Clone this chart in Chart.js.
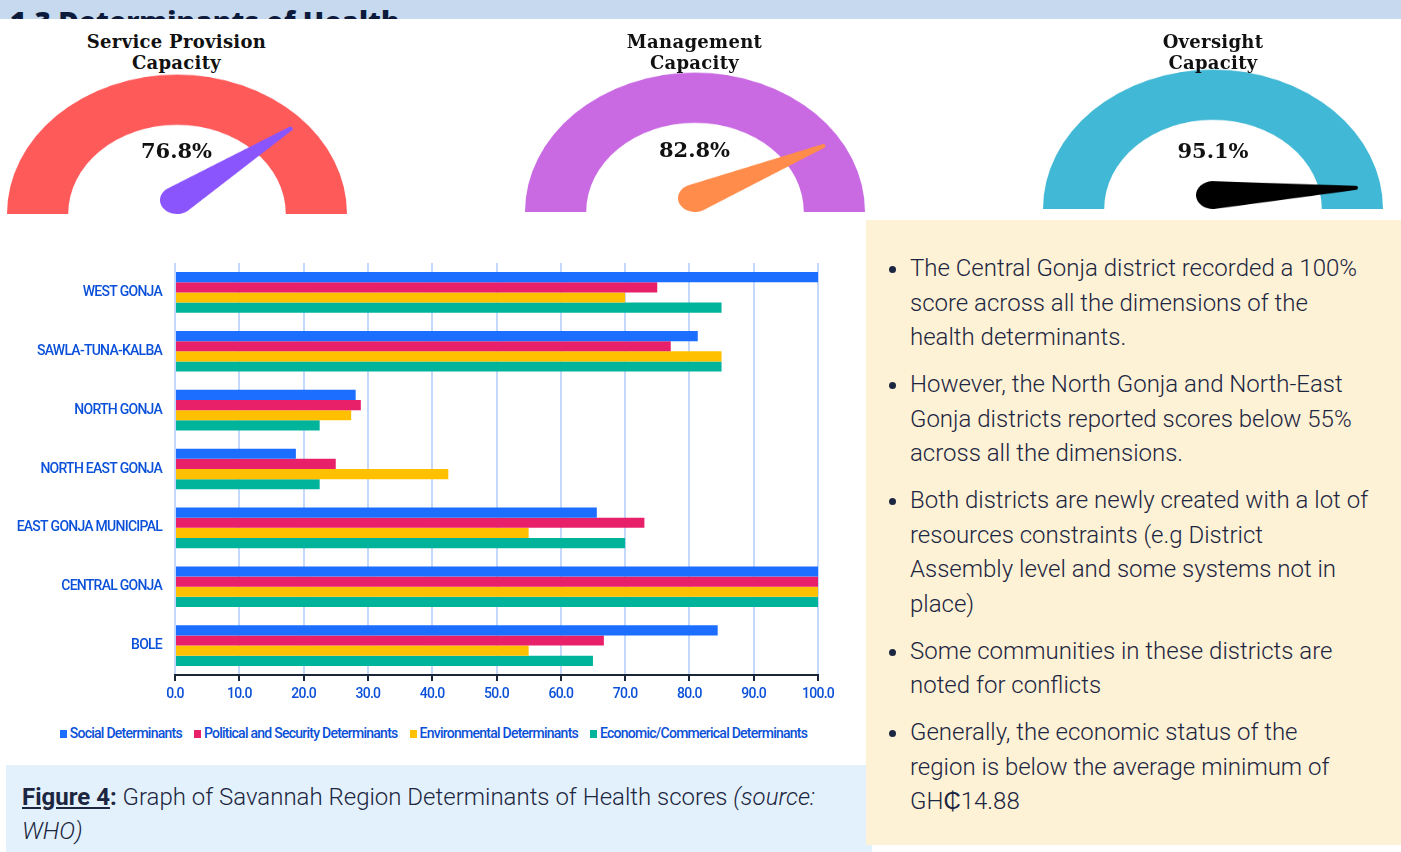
<!DOCTYPE html>
<html>
<head>
<meta charset="utf-8">
<script src="https://cdn.jsdelivr.net/npm/chart.js@4.4.1/dist/chart.umd.min.js"></script>
<style>
  html, body { margin: 0; padding: 0; background: #fff; }
  body { width: 1401px; height: 852px; position: relative; overflow: hidden; font-family: Roboto, sans-serif; }
  .band { position: absolute; left: 0; top: 0; width: 1401px; height: 19px; background: #c6d9ee; overflow: hidden; }
  .band span { position: absolute; left: 10px; top: 7px; font: 800 28px/28px "Open Sans", sans-serif; color: #0c1a3c; white-space: nowrap; }
  .gauge { position: absolute; width: 340px; }
  .gauge .wrap { position: absolute; left: 0; bottom: 0; width: 340px; height: 170px; transform: scaleY(0.82); transform-origin: bottom center; }
  .gtitle { position: absolute; width: 340px; text-align: center; font: bold 18px/21px "DejaVu Serif", "Liberation Serif", serif; color: #111; letter-spacing: 0.3px; }
  .gval { position: absolute; width: 340px; text-align: center; font: bold 21px/24px "DejaVu Serif", "Liberation Serif", serif; color: #111; }
  #barWrap { position: absolute; left: 0; top: 250px; width: 870px; height: 468px; }
  #legend { position: absolute; left: 0; top: 724px; width: 867px; text-align: center; font: 500 14px/18px Roboto, sans-serif; letter-spacing: -0.75px; color: #0a50d8; white-space: nowrap; }
  #legend span { display: inline-block; margin: 0 6px; }
  #legend i { display: inline-block; width: 7px; height: 8px; margin-right: 3px; vertical-align: 0px; }
  .caption { position: absolute; left: 6px; top: 765px; width: 866px; height: 87px; background: #e3f1fd; box-sizing: border-box; padding: 15px 0 0 16px; font: 300 24px/34px Roboto, sans-serif; color: #1c2640; white-space: nowrap; }
  .caption b { font-weight: 700; text-decoration: underline; }
  .panel { position: absolute; left: 866px; top: 220px; width: 535px; height: 625px; background: #fdf1d6; }
  .panel ul { margin: 0; padding: 31px 0 0 44px; list-style: disc; font: 300 24px/34.5px Roboto, sans-serif; color: #1c2640; }
  .panel li { margin-bottom: 12.5px; white-space: nowrap; padding-left: 0; }
</style>
</head>
<body>
<div class="band"><span>1.3 Determinants of Health</span></div>

<div id="gauges"></div>

<div id="barWrap"><canvas id="barchart" width="870" height="468"></canvas></div>
<div id="legend"></div>

<div class="caption"><b>Figure 4</b><b style="text-decoration:none">:</b> Graph of Savannah Region Determinants of Health scores <i>(source:<br>WHO)</i></div>

<div class="panel">
  <ul>
    <li>The Central Gonja district recorded a 100%<br>score across all the dimensions of the<br>health determinants.</li>
    <li>However, the North Gonja and North-East<br>Gonja districts reported scores below 55%<br>across all the dimensions.</li>
    <li>Both districts are newly created with a lot of<br>resources constraints (e.g District<br>Assembly level and some systems not in<br>place)</li>
    <li>Some communities in these districts are<br>noted for conflicts</li>
    <li>Generally, the economic status of the<br>region is below the average minimum of<br>GH₵14.88</li>
  </ul>
</div>

<script>
// gauges
const gaugeTitles = [['Service Provision', 'Capacity'], ['Management', 'Capacity'], ['Oversight', 'Capacity']];
const gaugeValues = [76.8, 82.8, 95.1];
const gaugeColors = ['#ff5a5a', '#c96ae3', '#41b8d5'];
const needleColors = ['#8b55fd', '#ff8c4a', '#000000'];
const needleMax = 97; // needle sweep in the original reaches the right end just below 100

// bar chart
const districts = ['WEST GONJA', 'SAWLA-TUNA-KALBA', 'NORTH GONJA', 'NORTH EAST GONJA', 'EAST GONJA MUNICIPAL', 'CENTRAL GONJA', 'BOLE'];
const seriesNames = ['Social Determinants', 'Political and Security Determinants', 'Environmental Determinants', 'Economic/Commerical Determinants'];
const social = [100, 81.3, 28.1, 18.8, 65.6, 100, 84.4];
const political = [75, 77.1, 28.9, 25, 73, 100, 66.7];
const environmental = [70, 85, 27.4, 42.5, 55, 100, 55];
const economic = [85, 85, 22.5, 22.5, 70, 100, 65];
const barColors = ['#1b6eff', '#e8206a', '#ffc000', '#00b39b'];

const gaugePos = [[6.5, 214, 139], [524.5, 212, 138], [1043, 209, 139]]; // left, bottom, value text top

const needle = {
  id: 'needle',
  afterDatasetsDraw(chart, args, opts) {
    const arc = chart.getDatasetMeta(0).data[0];
    const ctx = chart.ctx;
    const px = arc.x, py = arc.y - 17;
    const ang = Math.PI + Math.PI * Math.min(opts.value / needleMax, 1);
    const L = arc.outerRadius * 0.84, r = 17;
    ctx.save();
    ctx.translate(px, py);
    ctx.rotate(ang);
    ctx.beginPath();
    ctx.moveTo(0, -r);
    ctx.lineTo(L, -2.5);
    ctx.arc(L, 0, 2.5, -Math.PI / 2, Math.PI / 2);
    ctx.lineTo(0, r);
    ctx.arc(0, 0, r, Math.PI / 2, Math.PI * 1.5);
    ctx.fillStyle = opts.color;
    ctx.fill();
    ctx.restore();
  }
};

const gdiv = document.getElementById('gauges');
gaugeValues.forEach((v, i) => {
  const [left, bottom, valTop] = gaugePos[i];
  const g = document.createElement('div');
  g.className = 'gauge';
  g.style.left = left + 'px';
  g.style.top = (bottom - 170) + 'px';
  g.style.height = '170px';
  g.innerHTML = '<div class="wrap"><canvas width="340" height="170"></canvas></div>';
  gdiv.appendChild(g);
  const t = document.createElement('div');
  t.className = 'gtitle';
  t.style.left = left + 'px';
  t.style.top = '31px';
  t.innerHTML = gaugeTitles[i].join('<br>');
  gdiv.appendChild(t);
  const val = document.createElement('div');
  val.className = 'gval';
  val.style.left = left + 'px';
  val.style.top = valTop + 'px';
  val.textContent = v.toFixed(1) + '%';
  gdiv.appendChild(val);

  new Chart(g.querySelector('canvas').getContext('2d'), {
    type: 'doughnut',
    data: { datasets: [{ data: [100], backgroundColor: [gaugeColors[i]], borderWidth: 0 }] },
    options: {
      responsive: false,
      animation: false,
      rotation: -90,
      circumference: 180,
      cutout: '64%',
      layout: { padding: 0 },
      plugins: { legend: { display: false }, tooltip: { enabled: false }, needle: { value: v, color: needleColors[i] } }
    },
    plugins: [needle]
  });
});

// condensed look for the axis text
const tightText = {
  id: 'tightText',
  beforeUpdate(chart) { chart.ctx.letterSpacing = '-0.75px'; },
  beforeLayout(chart) { chart.ctx.letterSpacing = '-0.75px'; },
  beforeDraw(chart) { chart.ctx.letterSpacing = '-0.75px'; }
};

const tickBlue = '#0a50d8';
const ctx = document.getElementById('barchart').getContext('2d');
const barchart = new Chart(ctx, {
  type: 'bar',
  data: {
    labels: districts,
    datasets: [social, political, environmental, economic].map((d, i) => ({
      label: seriesNames[i],
      data: d,
      backgroundColor: barColors[i],
      borderWidth: 0,
      categoryPercentage: 0.69,
      barPercentage: 1.0
    }))
  },
  options: {
    indexAxis: 'y',
    responsive: false,
    animation: false,
    layout: { padding: { top: 13, right: 52, left: 0, bottom: 0 } },
    scales: {
      x: {
        min: 0,
        max: 100,
        ticks: {
          stepSize: 10,
          padding: 5,
          color: tickBlue,
          font: { family: 'Roboto', size: 14, weight: '500' },
          callback: function(value) { return value.toFixed(1); }
        },
        grid: { color: '#c4d9fb', lineWidth: 2, tickColor: '#1b2538', tickLength: 6 },
        border: { color: '#1b2538', width: 2 },
        afterFit: function(scale) { scale.height = 43; }
      },
      y: {
        ticks: { color: tickBlue, padding: 0, font: { family: 'Roboto', size: 14, weight: '500' } },
        grid: { display: false, drawTicks: true, tickLength: 13 },
        border: { display: false },
        afterFit: function(scale) { scale.width = 175; }
      }
    },
    plugins: {
      tooltip: { enabled: false },
      legend: { display: false }
    }
  },
  plugins: [tightText]
});

// legend built from the same series
document.getElementById('legend').innerHTML = seriesNames
  .map((n, i) => '<span><i style="background:' + barColors[i] + '"></i>' + n + '</span>')
  .join('');
</script>
</body>
</html>
